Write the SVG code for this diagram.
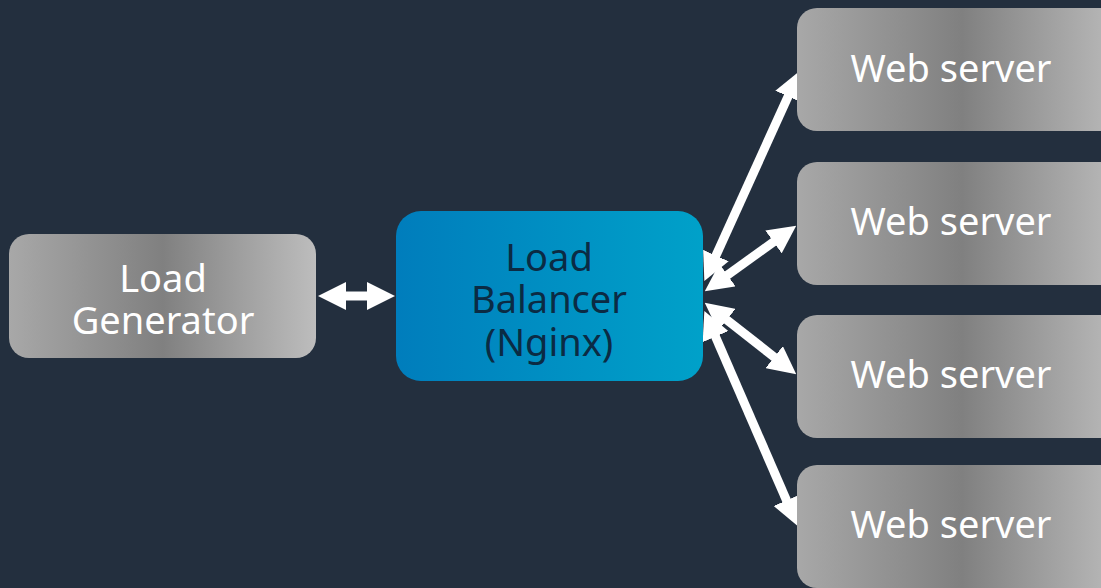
<svg xmlns="http://www.w3.org/2000/svg" width="1101" height="588" viewBox="0 0 1101 588">
<defs>
<linearGradient id="gray" x1="0" y1="0" x2="1" y2="0">
<stop offset="0" stop-color="#a8a8a8"/>
<stop offset="0.5" stop-color="#808080"/>
<stop offset="1" stop-color="#bdbdbd"/>
</linearGradient>
<linearGradient id="blue" x1="0" y1="0" x2="1" y2="0">
<stop offset="0" stop-color="#007dbc"/>
<stop offset="1" stop-color="#00a1c9"/>
</linearGradient>
<marker id="ah" viewBox="0 0 28 28" refX="1" refY="14" markerWidth="28" markerHeight="28" markerUnits="userSpaceOnUse" orient="auto-start-reverse">
<path d="M0,0 L28,14 L0,28 Z" fill="#ffffff"/>
</marker>
</defs>
<style>
.gray{fill:url(#gray)}
.blue{fill:url(#blue)}
.wt{font-family:"Noto Sans","Open Sans",sans-serif;font-size:38px;fill:#ffffff;text-anchor:middle}
.dt{font-family:"Noto Sans","Open Sans",sans-serif;font-size:38px;fill:#0b2b44;text-anchor:middle}
.conn{stroke:#ffffff;stroke-width:9;fill:none;marker-start:url(#ah);marker-end:url(#ah)}
</style>
<rect width="1101" height="588" fill="#232f3e"/>
<g id="connectors">
<path class="conn" d="M345,296 L368,296"/>
<path class="conn" d="M715.5,256.5 L788.5,95.5"/>
<path class="conn" d="M726.7,275.6 L774.3,241.4"/>
<path class="conn" d="M726,319.3 L775,357.7"/>
<path class="conn" d="M715.1,335.7 L786.9,501.3"/>
</g>
<g id="load-generator">
<rect x="9" y="234" width="307" height="124" rx="20" class="gray"/>
<text class="wt"><tspan x="163" y="292">Load</tspan><tspan x="163" y="334">Generator</tspan></text>
</g>
<g id="load-balancer">
<rect x="396" y="211" width="307" height="170" rx="25" class="blue"/>
<text class="dt"><tspan x="549" y="271">Load</tspan><tspan x="549" y="313">Balancer</tspan><tspan x="549" y="356">(Nginx)</tspan></text>
</g>
<g id="web-server-1">
<rect x="797" y="8" width="330" height="123" rx="20" class="gray"/>
<text x="951" y="82" class="wt">Web server</text>
</g>
<g id="web-server-2">
<rect x="797" y="162" width="330" height="123" rx="20" class="gray"/>
<text x="951" y="235" class="wt">Web server</text>
</g>
<g id="web-server-3">
<rect x="797" y="315" width="330" height="123" rx="20" class="gray"/>
<text x="951" y="388" class="wt">Web server</text>
</g>
<g id="web-server-4">
<rect x="797" y="465" width="330" height="123" rx="20" class="gray"/>
<text x="951" y="538" class="wt">Web server</text>
</g>
</svg>
